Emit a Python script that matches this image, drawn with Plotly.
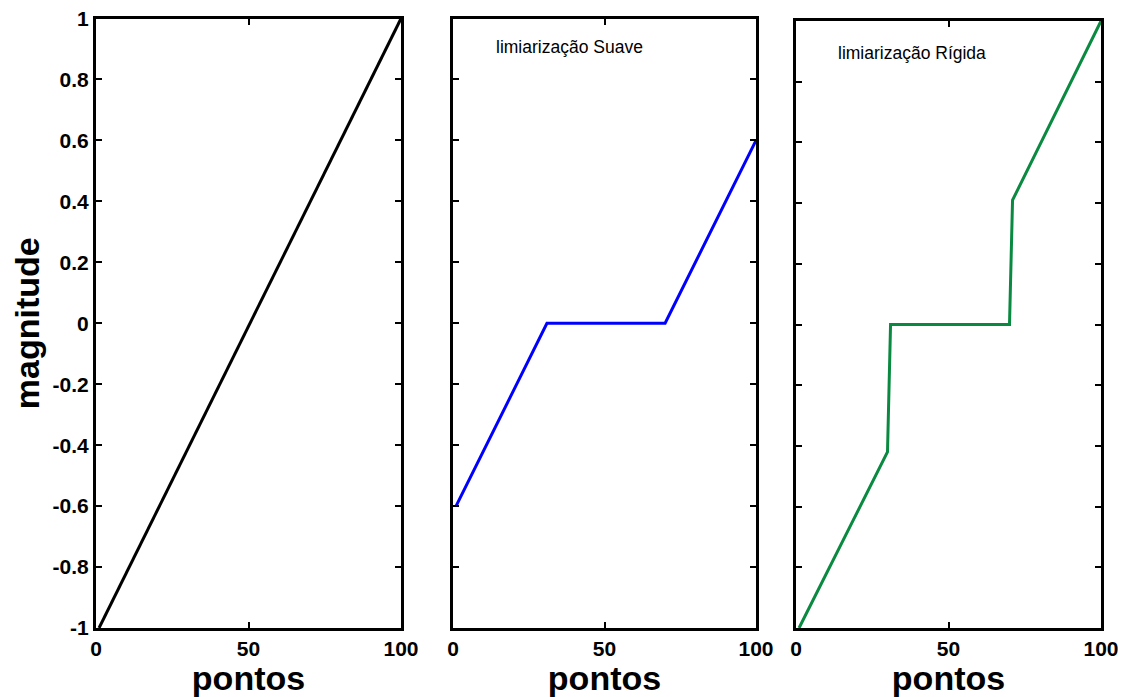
import plotly.graph_objects as go

# data
x_orig = [1, 100]
y_orig = [-1.0, 1.0]

x_soft = [1, 31, 70, 100]
y_soft = [-0.6, 0.0, 0.0, 0.6]

x_hard = [1, 30, 31, 70, 71, 100]
y_hard = [-1.0, -0.42, 0.0, 0.0, 0.41, 1.0]

xtick_vals = [0, 50, 100]
xtick_text = ["0", "50", "100"]
ytick_vals = [1, 0.8, 0.6, 0.4, 0.2, 0, -0.2, -0.4, -0.6, -0.8, -1]
ytick_text = ["1", "0.8", "0.6", "0.4", "0.2", "0", "-0.2", "-0.4", "-0.6", "-0.8", "-1"]

# page has an 8px body margin; figure is sized to fit inside the window
OFF = 8
W, H = 1126 - OFF, 697 - OFF
FONT = "Liberation Sans, Arial, sans-serif"

def xd(a, b):
    return [(a - OFF) / W, (b - OFF) / W]

def yd(top, bottom):
    return [1 - (bottom - OFF) / H, 1 - (top - OFF) / H]

fig = go.Figure()
fig.add_trace(go.Scatter(x=x_orig, y=y_orig, mode="lines",
                         line=dict(color="black", width=3), xaxis="x", yaxis="y"))
fig.add_trace(go.Scatter(x=x_soft, y=y_soft, mode="lines",
                         line=dict(color="#0000ff", width=3), xaxis="x2", yaxis="y2"))
fig.add_trace(go.Scatter(x=x_hard, y=y_hard, mode="lines",
                         line=dict(color="#0a8a40", width=3), xaxis="x3", yaxis="y3"))

common_x = dict(range=[0, 100], tickvals=xtick_vals, ticktext=xtick_text,
                ticks="inside", ticklen=6, tickwidth=2, tickcolor="black",
                showline=True, linecolor="black", linewidth=3, mirror="allticks",
                showgrid=False, zeroline=False, automargin=False,
                ticklabeloverflow="allow",
                tickfont=dict(family=FONT, size=21, color="black", weight="bold"),
                title=dict(text="pontos", standoff=2,
                           font=dict(family=FONT, size=34, color="black", weight="bold")))
common_y = dict(range=[-1, 1], tickvals=ytick_vals, ticktext=ytick_text,
                ticks="inside", ticklen=6, tickwidth=2, tickcolor="black",
                showline=True, linecolor="black", linewidth=3, mirror="allticks",
                showgrid=False, zeroline=False, automargin=False,
                ticklabeloverflow="allow",
                tickfont=dict(family=FONT, size=21, color="black", weight="bold"))

fig.update_layout(
    width=W, height=H,
    margin=dict(l=0, r=0, t=0, b=0),
    paper_bgcolor="white", plot_bgcolor="white",
    showlegend=False,
    xaxis=dict(common_x, domain=xd(96, 401), anchor="y"),
    yaxis=dict(common_y, domain=yd(18.5, 628), anchor="x",
               title=dict(text="magnitude", standoff=8,
                          font=dict(family=FONT, size=34, color="black", weight="bold"))),
    xaxis2=dict(common_x, domain=xd(453, 756), anchor="y2"),
    yaxis2=dict(common_y, domain=yd(18.5, 628), anchor="x2", showticklabels=False),
    xaxis3=dict(common_x, domain=xd(796, 1101), anchor="y3"),
    yaxis3=dict(common_y, domain=yd(21, 628), anchor="x3", showticklabels=False),
    annotations=[
        dict(text="limiarização Suave", x=13.6, y=0.905, xref="x2", yref="y2",
             xanchor="left", yanchor="middle", showarrow=False,
             font=dict(family=FONT, size=17.5, color="black")),
        dict(text="limiarização Rígida", x=13.2, y=0.895, xref="x3", yref="y3",
             xanchor="left", yanchor="middle", showarrow=False,
             font=dict(family=FONT, size=17.5, color="black")),
    ],
)

fig.write_html("out.html")
